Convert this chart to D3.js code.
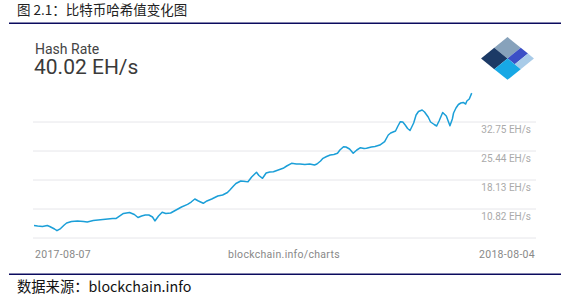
<!DOCTYPE html>
<html>
<head>
<meta charset="utf-8">
<script src="https://cdnjs.cloudflare.com/ajax/libs/d3/7.8.5/d3.min.js"></script>
<style>
  body { margin: 0; background: #fff; }
  svg { display: block; }
</style>
</head>
<body>
<svg id="chart"></svg>
<script>
// days since 2017-08-07 and hash rate (EH/s)
const startDate = "2017-08-07";
const endDate = "2018-08-04";
const dayOffsets = [0, 3, 7, 11, 13, 17, 19, 22, 25, 27, 31, 36, 41, 44, 49, 53, 57, 61, 65, 68,
  71, 74, 79, 83, 86, 89, 92, 95, 98, 100, 103, 106, 109, 113, 116, 119, 122, 127, 130, 133,
  136, 140, 143, 147, 152, 156, 160, 162, 165, 167, 171, 175, 177, 180, 184, 186, 189, 192, 195, 198,
  202, 206, 209, 213, 217, 220, 224, 228, 232, 234, 237, 239, 242, 245, 248, 251, 253, 256, 258, 261,
  264, 267, 270, 273, 275, 279, 282, 286, 290, 293, 295, 299, 301, 303, 305, 307, 309, 311, 314, 316,
  318, 321, 323, 326, 328, 331, 333, 335, 338, 341, 344, 346, 347, 349, 351, 353, 355, 357, 358, 360, 362];
const hashRate = [6.66, 6.53, 6.41, 6.66, 6.41, 5.78, 5.35, 5.90, 6.79, 7.29, 7.67, 7.80, 7.67, 7.54, 7.92, 8.05, 8.17, 8.30, 8.43, 8.43,
  9.06, 9.69, 9.94, 9.43, 8.68, 9.06, 9.31, 9.31, 8.80, 7.80, 9.06, 9.99, 9.69, 9.81, 10.32, 10.82, 11.32, 12.00, 12.58, 13.34,
  12.84, 12.26, 12.84, 13.34, 14.10, 14.35, 14.98, 15.61, 16.62, 17.25, 17.88, 17.75, 17.70, 18.89, 20.07, 19.26, 18.56, 19.89, 20.15, 20.22,
  20.65, 21.08, 21.66, 22.34, 22.16, 22.16, 22.04, 22.16, 21.91, 22.16, 22.92, 23.60, 24.05, 24.43, 24.56, 24.86, 25.69, 26.52, 26.45, 25.94,
  24.86, 25.69, 26.27, 26.07, 26.12, 26.45, 26.57, 26.95, 27.78, 29.47, 29.98, 30.48, 31.74, 32.83, 32.75, 31.99, 31.11, 30.61, 32.50, 34.51,
  35.40, 35.77, 35.27, 34.01, 32.75, 32.12, 31.74, 33.00, 35.14, 34.26, 31.82, 33.51, 35.02, 36.28, 37.16, 37.54, 37.67, 37.29, 38.04, 38.55, 40.02];
const gridValues = [3.51, 10.82, 18.13, 25.44, 32.75];
const tickLabels = ["10.82 EH/s", "18.13 EH/s", "25.44 EH/s", "32.75 EH/s"];
const titleText = "图 2.1：比特币哈希值变化图";
const sourceText = "数据来源：blockchain.info";
const metricName = "Hash Rate";
const metricValue = "40.02 EH/s";
const footerText = "blockchain.info/charts";

const W = 569, H = 296;
const svg = d3.select("#chart").attr("width", W).attr("height", H);

const parse = d3.timeParse("%Y-%m-%d");
const t0 = parse(startDate);
const data = dayOffsets.map((d, i) => ({ date: d3.timeDay.offset(t0, d), value: hashRate[i] }));

const x = d3.scaleTime().domain([t0, parse(endDate)]).range([34, 471.7]);
const y = d3.scaleLinear().domain([3.51, 32.75]).range([238, 122]);

// page header / footer
svg.append("text").attr("x", 17).attr("y", 15)
  .style("font-family", "'Noto Sans CJK SC', sans-serif").style("font-size", "13.5px").attr("fill", "#222")
  .text(titleText);
svg.append("line").attr("x1", 9).attr("x2", 561).attr("y1", 23.3).attr("y2", 23.3)
  .attr("stroke", "#0b0b5e").attr("stroke-width", 1.6);
svg.append("line").attr("x1", 9).attr("x2", 561).attr("y1", 274.3).attr("y2", 274.3)
  .attr("stroke", "#0b0b5e").attr("stroke-width", 1.6);
svg.append("text").attr("x", 17).attr("y", 292)
  .style("font-family", "'Noto Sans CJK SC', sans-serif").style("font-size", "14.3px").attr("fill", "#111")
  .text(sourceText);

// metric header
svg.append("text").attr("x", 35).attr("y", 54)
  .style("font-family", "Roboto, sans-serif").style("font-size", "14px").attr("fill", "#444")
  .text(metricName);
svg.append("text").attr("x", 34).attr("y", 74)
  .style("font-family", "Roboto, sans-serif").style("font-size", "21px").attr("fill", "#3a3a3a")
  .text(metricValue);

// logo
const logo = svg.append("g").attr("transform", "translate(507.5,37) scale(1,0.81) rotate(45)");
const s = 18.7;
logo.append("rect").attr("x", 0).attr("y", 0).attr("width", s).attr("height", s).attr("fill", "#87a2bb");
logo.append("rect").attr("x", 0).attr("y", s).attr("width", s).attr("height", s).attr("fill", "#1c3a66");
logo.append("rect").attr("x", s).attr("y", 0).attr("width", s * 0.55).attr("height", s).attr("fill", "#3b4fc6");
logo.append("rect").attr("x", s * 1.55).attr("y", 0).attr("width", s * 0.45).attr("height", s).attr("fill", "#a8cbe8");
logo.append("rect").attr("x", s).attr("y", s).attr("width", s).attr("height", s).attr("fill", "#17a8e5");

// grid
svg.append("g").selectAll("line").data(gridValues).join("line")
  .attr("x1", 33).attr("x2", 536)
  .attr("y1", d => y(d)).attr("y2", d => y(d))
  .attr("stroke", "#e6e6ea").attr("stroke-width", 1);

svg.append("g").selectAll("text").data(gridValues.slice(1)).join("text")
  .attr("x", 531).attr("y", d => y(d) + 11)
  .attr("text-anchor", "end")
  .style("font-family", "Roboto, sans-serif").style("font-size", "10px").attr("fill", "#aaa")
  .text((d, i) => tickLabels[i]);

// footer axis labels
const foot = svg.append("g").style("font-family", "Roboto, sans-serif").style("font-size", "10.5px")
  .attr("fill", "#888").style("letter-spacing", "0.3px");
foot.append("text").attr("x", 35).attr("y", 258).text(d3.timeFormat("%Y-%m-%d")(x.domain()[0]));
foot.append("text").attr("x", 284).attr("y", 258).attr("text-anchor", "middle").text(footerText);
foot.append("text").attr("x", 535).attr("y", 258).attr("text-anchor", "end").text(d3.timeFormat("%Y-%m-%d")(x.domain()[1]));

// line
const line = d3.line().x(d => x(d.date)).y(d => y(d.value));
svg.append("path").datum(data)
  .attr("d", line)
  .attr("fill", "none").attr("stroke", "#1b9fd8").attr("stroke-width", 1.5)
  .attr("stroke-linejoin", "round");
</script>
</body>
</html>
